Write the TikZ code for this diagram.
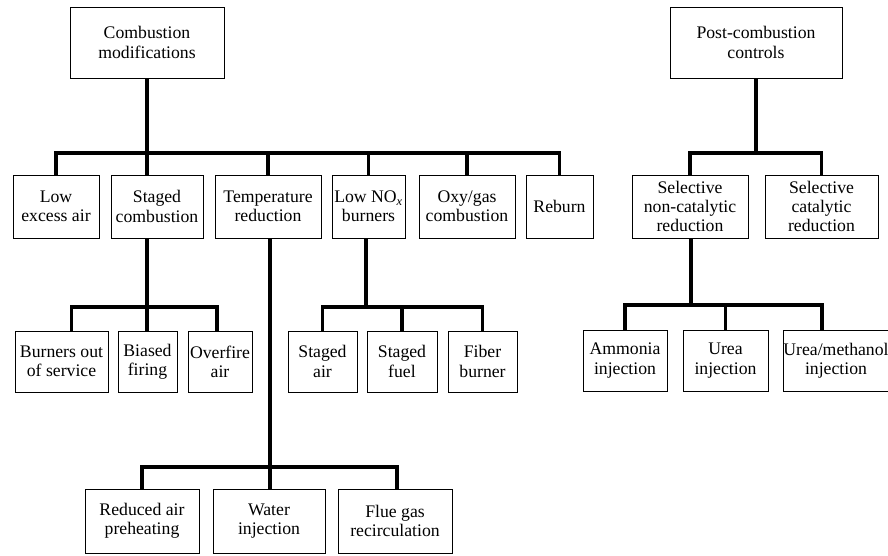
\documentclass[tikz,border=0pt]{standalone}
\usepackage{fontspec}
\setmainfont{Liberation Serif}
\usetikzlibrary{positioning,calc}

\begin{document}
\begin{tikzpicture}[x=1pt,y=-1pt,
   box/.style={draw,line width=0.9pt,inner sep=0pt,align=center,
               font=\fontsize{17.7}{19.2}\selectfont},
   sz/.style 2 args={minimum width=#1pt,minimum height=#2pt},
   bus/.style={line width=3.8pt}]
  \useasboundingbox (0,0) rectangle (888,555);
  \node[box,sz={154}{71}] (cm) at (147,42.5) {Combustion\\modifications};
  \node[box,sz={172}{71}] (pc) at (756,42.5) {Post-combustion\\controls};
  \node[box,sz={86}{63}] (lea) at (56,206.5) {Low\\excess air};
  \node[box,sz={92}{63}] (sc) at (157,206.5) {Staged\\combustion};
  \node[box,sz={106}{63}] (tr) at (268,206.5) {Temperature\\reduction};
  \node[box,sz={73}{63}] (ln) at (368.5,206.5) {Low NO\textsubscript{\itshape x}\\burners};
  \node[box,sz={96}{63}] (og) at (467,206.5) {Oxy/gas\\combustion};
  \node[box,sz={67}{63}] (rb) at (559.5,206.5) {Reburn};
  \node[box,sz={116}{63}] (sncr) at (690,206.5) {Selective\\non-catalytic\\reduction};
  \node[box,sz={113}{63}] (scr) at (821.5,206.5) {Selective\\catalytic\\reduction};
  \node[box,sz={93}{61}] (bos) at (61.5,361.5) {Burners out\\of service};
  \node[box,sz={59}{61}] (bf) at (147.5,361.5) {Biased\\firing};
  \node[box,sz={64}{61}] (oa) at (220,361.5) {Overfire\\air};
  \node[box,sz={69}{61}] (sa) at (322.5,361.5) {Staged\\air};
  \node[box,sz={70}{61}] (sf) at (402,361.5) {Staged\\fuel};
  \node[box,sz={69}{61}] (fb) at (482.5,361.5) {Fiber\\burner};
  \node[box,sz={84}{61}] (am) at (625,360.5) {Ammonia\\injection};
  \node[box,sz={85}{61}] (ur) at (725.5,360.5) {Urea\\injection};
  \node[box,sz={106}{61}] (um) at (836,360.5) {Urea/methanol\\injection};
  \node[box,sz={114}{64}] (rap) at (142,521) {Reduced air\\preheating};
  \node[box,sz={112}{64}] (wi) at (269,521) {Water\\injection};
  \node[box,sz={114}{64}] (fgr) at (395,521) {Flue gas\\recirculation};
  \coordinate (cmb) at (147,153);
  \coordinate (pcb) at (756,153);
  \coordinate (scb) at (147,307);
  \coordinate (lnb) at (366,307);
  \coordinate (sncrb) at (691,305);
  \coordinate (trb) at (270,467);
  \draw[bus] (cm.south) -- (cm.south |- sc.north);
  \draw[bus] (lea.north) |- (cmb) -| (rb.north);
  \draw[bus] (tr.north) -- (tr.north |- cmb);
  \draw[bus] (ln.north) -- (ln.north |- cmb);
  \draw[bus] (og.north) -- (og.north |- cmb);
  \draw[bus] (pc.south) -- (pcb);
  \draw[bus] (sncr.north) |- (pcb) -| (scr.north);
  \draw[bus] (scb |- sc.south) -- (scb |- bf.north);
  \draw[bus] ([xshift=10pt]bos.north) |- (scb) -| ([xshift=-3pt]oa.north);
  \draw[bus] (lnb |- ln.south) -- (lnb);
  \draw[bus] (sa.north) |- (lnb) -| (fb.north);
  \draw[bus] (sf.north) -- (sf.north |- lnb);
  \draw[bus] (sncrb |- sncr.south) -- (sncrb);
  \draw[bus] (am.north) |- (sncrb) -| ([xshift=-14pt]um.north);
  \draw[bus] (ur.north) -- (ur.north |- sncrb);
  \draw[bus] (trb |- tr.south) -- (trb |- wi.north);
  \draw[bus] (rap.north) |- (trb) -| ([xshift=2pt]fgr.north);
\end{tikzpicture}
\end{document}
